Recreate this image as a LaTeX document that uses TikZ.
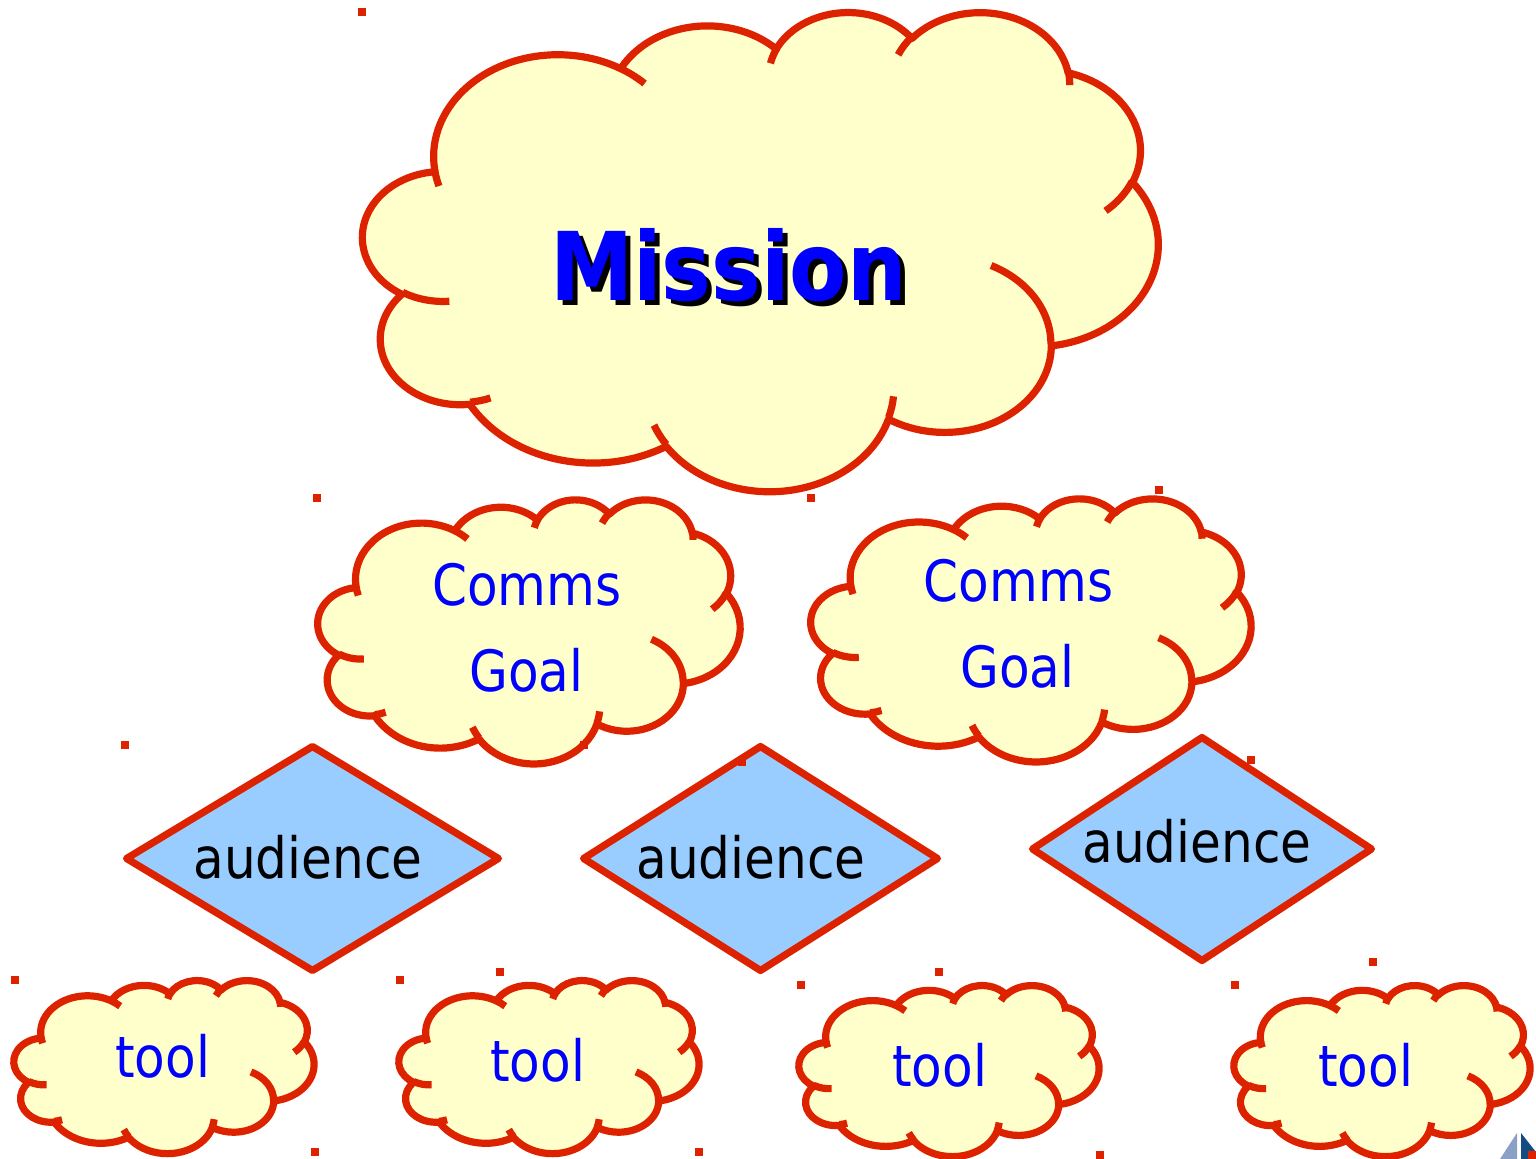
\documentclass[tikz,border=0pt]{standalone}
\usepackage{fontspec}
\usetikzlibrary{shapes.geometric}
\newfontfamily\tahoma[FakeStretch=0.88]{DejaVu Sans}
\definecolor{cloudred}{RGB}{221,34,0}
\definecolor{cloudyellow}{RGB}{255,255,204}
\definecolor{diamondblue}{RGB}{153,204,255}
\definecolor{textblue}{RGB}{0,0,255}
\definecolor{sailgrey}{RGB}{138,160,196}
\definecolor{sailblue}{RGB}{18,76,130}
% visual angle -> parameter angle of an ellipse
\pgfmathdeclarefunction{vispar}{3}{%
  \begingroup
    \pgfmathparse{atan2((#1)*sin(#3),(#2)*cos(#3))}%
    \let\vpraw\pgfmathresult
    \pgfmathparse{\vpraw+360*round(((#3)-\vpraw)/360)}%
    \pgfmathsmuggle\pgfmathresult
  \endgroup}
\newcommand\cloudarc[4]{arc[start angle={vispar(#1,#2,#3)}, end angle={vispar(#1,#2,#3+#4)}, x radius=#1, y radius=#2]}
\tikzset{
  cloudshape/.style={draw=cloudred, line width=4.1pt, fill=cloudyellow, line join=round},
  cloudfold/.style={draw=cloudred, line width=4.1pt},
  pics/pptcloud/.style={code={
    \path[cloudshape] (3.900,14.370) \cloudarc{6.753}{9.190}{-190.4875}{123.7805}
      \cloudarc{5.333}{7.267}{-144.1024}{89.9452}
      \cloudarc{4.365}{5.945}{-145.8079}{99.7230}
      \cloudarc{4.857}{6.595}{-130.9861}{117.2417}
      \cloudarc{5.333}{7.273}{-78.7089}{109.0269}
      \cloudarc{6.775}{9.220}{-46.2673}{130.2690}
      \cloudarc{5.785}{7.867}{0.6250}{114.0333}
      \cloudarc{6.752}{9.215}{22.4516}{115.1726}
      \cloudarc{7.720}{10.543}{66.2426}{75.7110}
      \cloudarc{4.360}{5.918}{-274.9421}{146.7356}
      \cloudarc{4.345}{5.945}{-246.8285}{152.5189} -- cycle;
    \path[cloudfold] (4.693,26.177) \cloudarc{4.345}{5.945}{86.7420}{26.4295}
      (6.928,34.899) \cloudarc{4.360}{5.918}{73.6105}{11.4475}
      (16.478,39.090) \cloudarc{6.752}{9.215}{137.6242}{14.0811}
      (28.827,34.751) \cloudarc{6.752}{9.215}{6.4533}{15.9984}
      (34.129,22.954) \cloudarc{5.785}{7.867}{-70.2924}{70.9174}
      (41.798,15.354) \cloudarc{5.333}{7.273}{30.3180}{27.7515}
      (38.324,5.426) \cloudarc{4.857}{6.595}{-13.7443}{14.8589}
      (29.078,3.952) \cloudarc{4.857}{6.595}{-149.1815}{18.1954}
      (22.141,4.720) \cloudarc{4.365}{5.945}{-163.4943}{17.6864}
      (14.000,5.192) \cloudarc{6.753}{9.190}{-66.7070}{12.3194}
      (4.127,15.789) \cloudarc{6.753}{9.190}{157.6544}{11.8582};
  }},
  audshape/.style={diamond, draw=cloudred, line width=4.1pt, fill=diamondblue, line join=round, inner sep=0pt},
  cloudtext/.style={anchor=base, inner sep=0pt, text=textblue, font=\tahoma\fontsize{32.4}{38}\selectfont},
  audtext/.style={anchor=base, inner sep=0pt, text=black, font=\tahoma\fontsize{32.4}{38}\selectfont},
  missiontext/.style={anchor=base, inner sep=0pt, font=\tahoma\bfseries\fontsize{54}{60}\selectfont},
  handle/.style={fill=cloudred, inner sep=0pt, minimum size=0.16cm}
}
\begin{document}
\begin{tikzpicture}[x=0.02cm, y=-0.02cm]
\useasboundingbox (0,0) rectangle (1536,1159);
\pic[shift={(363,11)}, xscale=18.403, yscale=11.088] {pptcloud};
\pic[shift={(318,499)}, xscale=9.769, yscale=6.111] {pptcloud};
\pic[shift={(811,498)}, xscale=10.185, yscale=6.088] {pptcloud};
\node[audshape, minimum width=7.5cm, minimum height=4.54cm] (aud1) at (312.5,858.5) {};
\node[audshape, minimum width=7.14cm, minimum height=4.54cm] (aud2) at (760.5,858.5) {};
\node[audshape, minimum width=6.84cm, minimum height=4.52cm] (aud3) at (1202,849) {};
\pic[shift={(14,980)}, xscale=6.944, yscale=4.005] {pptcloud};
\pic[shift={(399,980)}, xscale=6.944, yscale=4.005] {pptcloud};
\pic[shift={(799,985)}, xscale=6.944, yscale=3.958] {pptcloud};
\pic[shift={(1234,985)}, xscale=6.852, yscale=3.958] {pptcloud};
\node[missiontext, text=black] (missionshadow) at (733.5,305) {Mission};
\node[missiontext, text=textblue] (mission) at (728.5,300) {Mission};
\node[cloudtext] (comms1) at (527,605) {Comms};
\node[cloudtext] (goal1) at (526.5,691) {Goal};
\node[cloudtext] (comms2) at (1018.5,601) {Comms};
\node[cloudtext] (goal2) at (1017.5,687) {Goal};
\node[audtext] (audlabel1) at (308,878) {audience};
\node[audtext] (audlabel2) at (751,878) {audience};
\node[audtext] (audlabel3) at (1197,862) {audience};
\node[cloudtext] (tool1) at (162.5,1077) {tool};
\node[cloudtext] (tool2) at (537.5,1081) {tool};
\node[cloudtext] (tool3) at (939.5,1086) {tool};
\node[cloudtext] (tool4) at (1365.5,1086) {tool};
\fill[sailgrey] (1517,1133) -- (1517,1159) -- (1500,1159) -- cycle;
\fill[sailblue] (1521,1133) -- (1536,1152) -- (1536,1159) -- (1521,1159) -- cycle;
\foreach \hx/\hy [count=\i] in {362/12, 317/498, 811/498, 1159/490, 125/745, 584/745, 742/762, 1251/760, 15/980, 315/1152, 400/980, 500/972, 699/1152, 801/985, 939/972, 1100/1155, 1235/985, 1373/962, 1532/1155}
  \node[handle] (h\i) at (\hx,\hy) {};
\end{tikzpicture}
\end{document}
